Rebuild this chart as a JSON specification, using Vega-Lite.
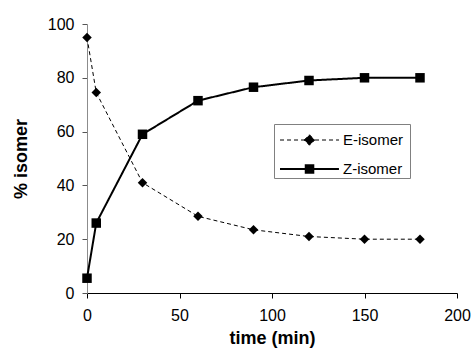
{
  "$schema": "https://vega.github.io/schema/vega-lite/v6.json",
  "width": 370,
  "height": 269,
  "autosize": {"type": "none"},
  "padding": {"left": 87, "top": 24, "right": 17, "bottom": 57},
  "config": {
    "view": {"stroke": null},
    "font": "Liberation Sans",
    "axis": {"grid": false, "labelColor": "black", "titleColor": "black", "labelFontSize": 16, "titleFontSize": 18, "titleFontWeight": "bold", "tickSize": 5}
  },
  "data": {
    "values": [
      {"time": 0, "pct": 95, "series": "E-isomer"},
      {"time": 5, "pct": 74.5, "series": "E-isomer"},
      {"time": 30, "pct": 41, "series": "E-isomer"},
      {"time": 60, "pct": 28.5, "series": "E-isomer"},
      {"time": 90, "pct": 23.5, "series": "E-isomer"},
      {"time": 120, "pct": 21, "series": "E-isomer"},
      {"time": 150, "pct": 20, "series": "E-isomer"},
      {"time": 180, "pct": 20, "series": "E-isomer"},
      {"time": 0, "pct": 5.5, "series": "Z-isomer"},
      {"time": 5, "pct": 26, "series": "Z-isomer"},
      {"time": 30, "pct": 59, "series": "Z-isomer"},
      {"time": 60, "pct": 71.5, "series": "Z-isomer"},
      {"time": 90, "pct": 76.5, "series": "Z-isomer"},
      {"time": 120, "pct": 79, "series": "Z-isomer"},
      {"time": 150, "pct": 80, "series": "Z-isomer"},
      {"time": 180, "pct": 80, "series": "Z-isomer"}
    ]
  },
  "encoding": {
    "x": {
      "field": "time", "type": "quantitative",
      "scale": {"domain": [0, 200], "nice": false},
      "axis": {"title": "time (min)", "values": [0, 50, 100, 150, 200], "domainColor": "black", "tickColor": "black", "labelFlush": false, "labelPadding": 9, "titlePadding": 6}
    },
    "y": {
      "field": "pct", "type": "quantitative",
      "scale": {"domain": [0, 100], "nice": false},
      "axis": {"title": "% isomer", "values": [0, 20, 40, 60, 80, 100], "domainColor": "#8c8c8c", "tickColor": "#555555", "labelPadding": 8, "titlePadding": 17}
    }
  },
  "resolve": {"scale": {"strokeDash": "independent"}, "legend": {"strokeDash": "independent"}},
  "layer": [
    {
      "transform": [{"filter": "datum.series === 'E-isomer'"}],
      "mark": {"type": "line", "color": "black", "strokeWidth": 1},
      "encoding": {
        "strokeDash": {
          "field": "series", "type": "nominal",
          "scale": {"domain": ["E-isomer"], "range": [[4, 3]]},
          "legend": {
            "title": " ",
            "titleOrient": "bottom",
            "titleFontSize": 18,
            "titlePadding": 6,
            "orient": "none",
            "legendX": 187,
            "legendY": 100,
            "padding": 6,
            "strokeColor": "#808080",
            "labelFontSize": 15,
            "labelColor": "black",
            "labelOffset": 43,
            "labelLimit": 200,
            "symbolSize": 361,
            "symbolStrokeWidth": 1,
            "symbolOffset": 0,
            "symbolFillColor": "black",
            "symbolStrokeColor": "black",
            "symbolType": "M-1.05,0H5.16M1.5,0L2.05,-0.55L2.6,0L2.05,0.55Z"
          }
        }
      }
    },
    {
      "transform": [{"filter": "datum.series === 'Z-isomer'"}],
      "mark": {"type": "line", "color": "black", "strokeWidth": 2},
      "encoding": {
        "strokeDash": {
          "field": "series", "type": "nominal",
          "scale": {"domain": ["Z-isomer"], "range": [[1, 0]]},
          "legend": {
            "title": null,
            "orient": "none",
            "legendX": 187,
            "legendY": 129,
            "padding": 6,
            "labelFontSize": 15,
            "labelColor": "black",
            "labelOffset": 43,
            "labelLimit": 200,
            "symbolSize": 324,
            "symbolStrokeWidth": 2,
            "symbolOffset": 0,
            "symbolFillColor": "black",
            "symbolStrokeColor": "black",
            "symbolType": "M-1.11,0H5.44M1.75,-0.42H2.59V0.42H1.75Z"
          }
        }
      }
    },
    {
      "mark": {"type": "point", "filled": true, "color": "black", "opacity": 1, "size": 90},
      "encoding": {
        "shape": {
          "field": "series", "type": "nominal",
          "scale": {"domain": ["E-isomer", "Z-isomer"], "range": ["diamond", "square"]},
          "legend": null
        }
      }
    }
  ]
}
